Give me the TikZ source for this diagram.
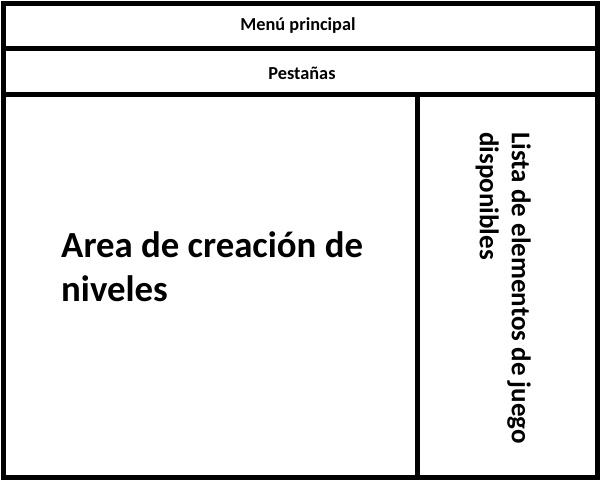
\documentclass[tikz,border=0pt]{standalone}
\usepackage{fontspec}
\setmainfont{Carlito}
\tikzset{
  panel/.style={line width=5pt},
  lbl/.style={inner sep=0pt, font=\bfseries}
}
\begin{document}
\begin{tikzpicture}[x=1pt,y=-1pt]
            \useasboundingbox (0,0) rectangle (600,480);
            % marco y divisiones
            \draw[panel] (3.5,3.5) rectangle (597.5,477);
            \draw[panel] (1,48.5) -- (600,48.5);
            \draw[panel] (1,94.5) -- (600,94.5);
            \draw[panel] (417.5,94.5) -- (417.5,480);

            \node[lbl, font=\bfseries\fontsize{18.3}{22}\selectfont] (menu) at (298,26) {Menú principal};
            \node[lbl, font=\bfseries\fontsize{18.3}{22}\selectfont] (pestanas) at (302,73) {Pestañas};
            \node[lbl, align=left, anchor=north west,
                  font=\bfseries\fontsize{36.8}{44}\selectfont] (area) at (61,231)
                {Area de creación de\\niveles};
            \node[lbl, align=left, anchor=north west, rotate=-90,
                  font=\bfseries\fontsize{27}{32}\selectfont] (lista) at (531,132)
                {Lista de elementos de juego\\disponibles};
        \end{tikzpicture}
\end{document}
